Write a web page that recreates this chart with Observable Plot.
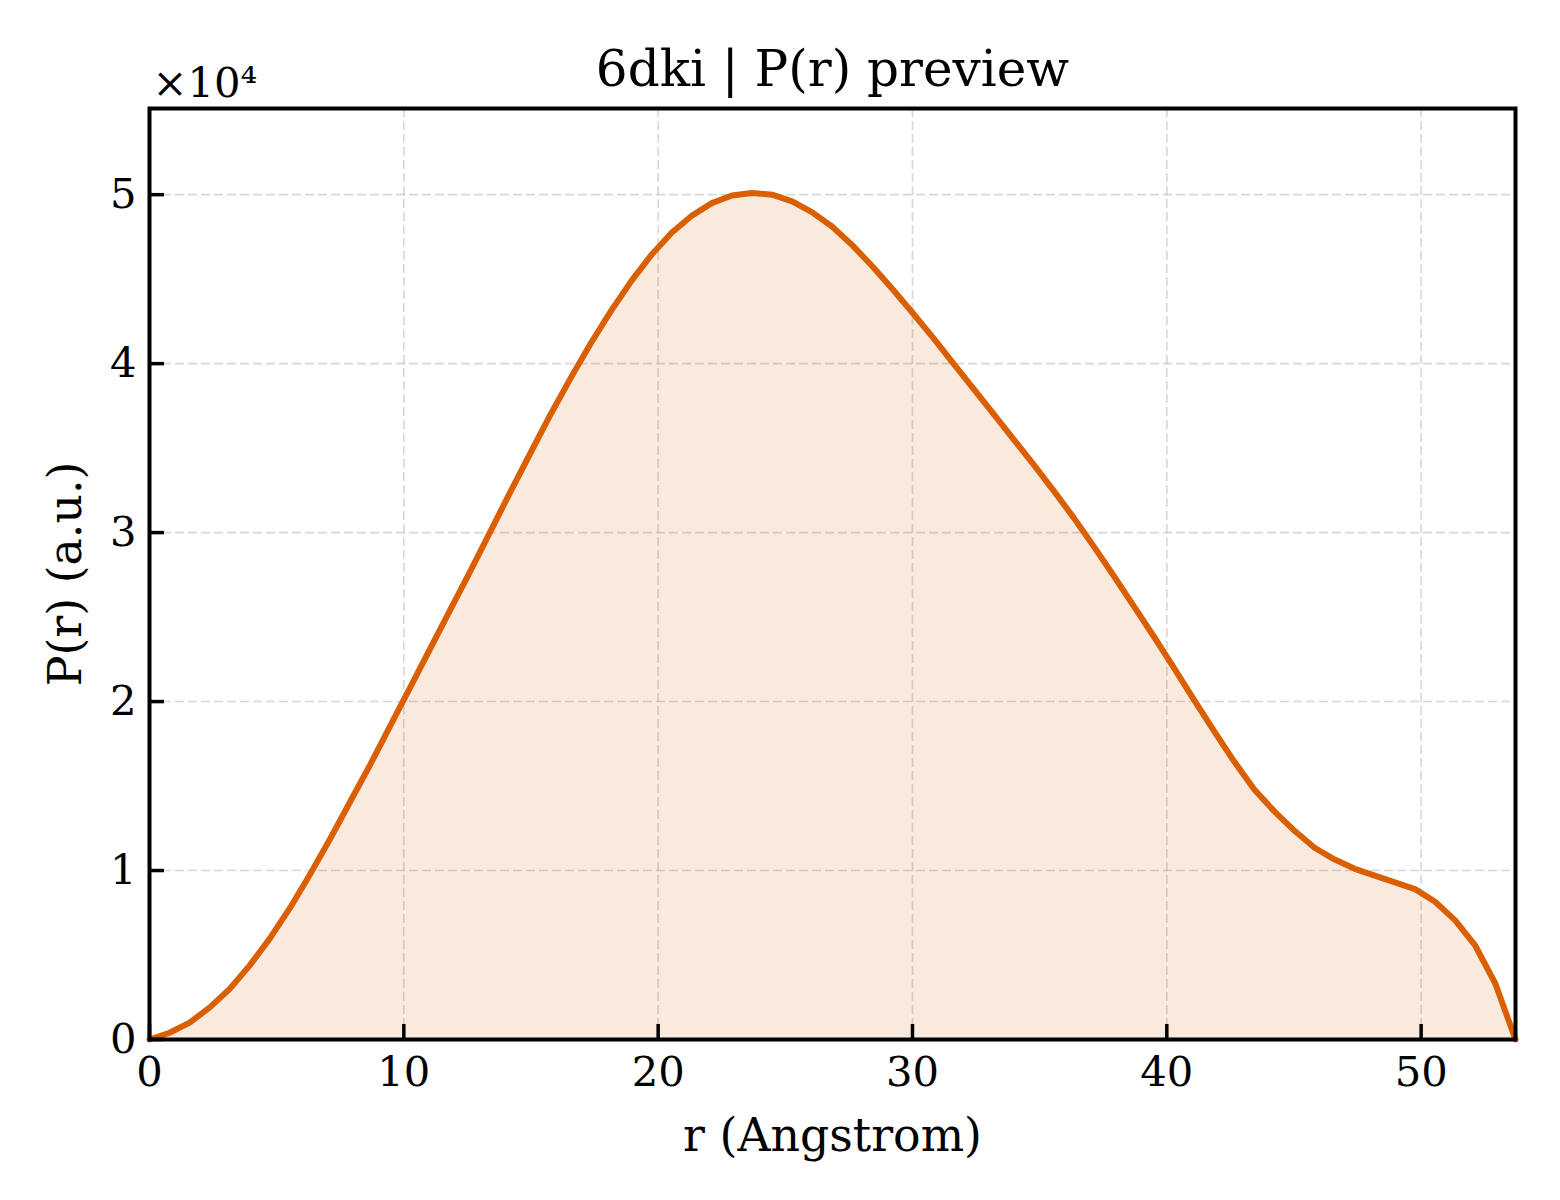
<!DOCTYPE html>
<html>
<head>
<meta charset="utf-8">
<script src="https://cdn.jsdelivr.net/npm/d3@7"></script>
<script src="https://cdn.jsdelivr.net/npm/@observablehq/plot@0.6"></script>
<style>
  html, body { margin: 0; padding: 0; background: #fff; }
  #chart svg { display: block; }
</style>
</head>
<body>
<div id="chart"></div>
<script>
const titleText = "6dki | P(r) preview";
const xLabel = "r (Angstrom)";
const yLabel = "P(r) (a.u.)";
const yOffsetText = "×10⁴";
const yScaleFactor = 1e4;

const xTicks = [0, 10, 20, 30, 40, 50];
const yTicks = [0, 1, 2, 3, 4, 5];

const rValues = [
  0, 0.79, 1.58, 2.37, 3.16, 3.95, 4.74, 5.53, 6.32, 7.11,
  7.90, 8.69, 9.48, 10.27, 11.06, 11.85, 12.64, 13.43, 14.22, 15.01,
  15.79, 16.58, 17.37, 18.16, 18.95, 19.74, 20.53, 21.32, 22.11, 22.90,
  23.69, 24.48, 25.27, 26.06, 26.85, 27.64, 28.43, 29.22, 30.01, 30.80,
  31.59, 32.38, 33.17, 33.96, 34.75, 35.54, 36.33, 37.12, 37.91, 38.70,
  39.49, 40.28, 41.07, 41.86, 42.65, 43.44, 44.23, 45.02, 45.81, 46.60,
  47.39, 48.18, 48.97, 49.76, 50.55, 51.34, 52.13, 52.92, 53.71
];

const prValues = [
  0, 400, 1000, 1900, 3000, 4400, 6000, 7800, 9800, 11900,
  14100, 16300, 18600, 20900, 23200, 25500, 27800, 30150, 32500, 34800,
  37050, 39200, 41250, 43150, 44900, 46450, 47750, 48750, 49500, 49950,
  50100, 50000, 49600, 48950, 48100, 47000, 45750, 44400, 43000, 41550,
  40050, 38550, 37050, 35550, 34050, 32500, 30900, 29200, 27450, 25650,
  23850, 22000, 20100, 18250, 16450, 14800, 13500, 12350, 11350, 10650,
  10100, 9700, 9300, 8900, 8150, 7050, 5550, 3300, 0
];

const lineColor = "#d95f02";
const fontFamily = "DejaVu Serif";

const data = rValues.map((r, i) => ({r, p: prValues[i] / yScaleFactor}));

const chart = Plot.plot({
  width: 1560,
  height: 1200,
  marginTop: 108,
  marginBottom: 161,
  marginLeft: 149,
  marginRight: 45,
  style: {fontFamily, background: "#fff", color: "#000", overflow: "visible"},
  x: {domain: [0, 53.71]},
  y: {domain: [0, 5.51]},
  marks: [
    Plot.gridX(xTicks, {stroke: "#b0b0b0", strokeOpacity: 0.5, strokeWidth: 1.6, strokeDasharray: "9,4"}),
    Plot.gridY(yTicks, {stroke: "#b0b0b0", strokeOpacity: 0.5, strokeWidth: 1.6, strokeDasharray: "9,4"}),
    Plot.areaY(data, {x: "r", y: "p", fill: lineColor, fillOpacity: 0.13}),
    Plot.lineY(data, {x: "r", y: "p", stroke: lineColor, strokeWidth: 6, strokeLinejoin: "round"}),
    Plot.frame({stroke: "#000", strokeWidth: 4}),
    Plot.axisX({ticks: xTicks, anchor: "bottom", tickSize: 15, dy: -15, text: null, strokeWidth: 3.5, label: null}),
    Plot.axisY({ticks: yTicks, anchor: "left", tickSize: 15, dx: 15, text: null, strokeWidth: 3.5, label: null}),
    Plot.axisX({ticks: xTicks, anchor: "bottom", tickSize: 0, tickPadding: 17, fontSize: 41.7, label: null, tickFormat: d => String(d)}),
    Plot.axisY({ticks: yTicks, anchor: "left", tickSize: 0, tickPadding: 13, fontSize: 41.7, label: null, tickFormat: d => String(d)}),
    Plot.text([titleText], {frameAnchor: "top", lineAnchor: "bottom", dy: -23, fontSize: 50, fill: "#000", text: d => d}),
    Plot.text([yOffsetText], {frameAnchor: "top-left", textAnchor: "start", lineAnchor: "bottom", dx: 3, dy: -12, fontSize: 41.7, fill: "#000", text: d => d}),
    Plot.text([xLabel], {frameAnchor: "bottom", lineAnchor: "bottom", dy: 111, fontSize: 45.8, fill: "#000", text: d => d}),
    Plot.text([yLabel], {frameAnchor: "left", textAnchor: "middle", lineAnchor: "bottom", rotate: -90, dx: -69, fontSize: 45.8, fill: "#000", text: d => d})
  ]
});

document.getElementById("chart").appendChild(chart);
</script>
</body>
</html>
